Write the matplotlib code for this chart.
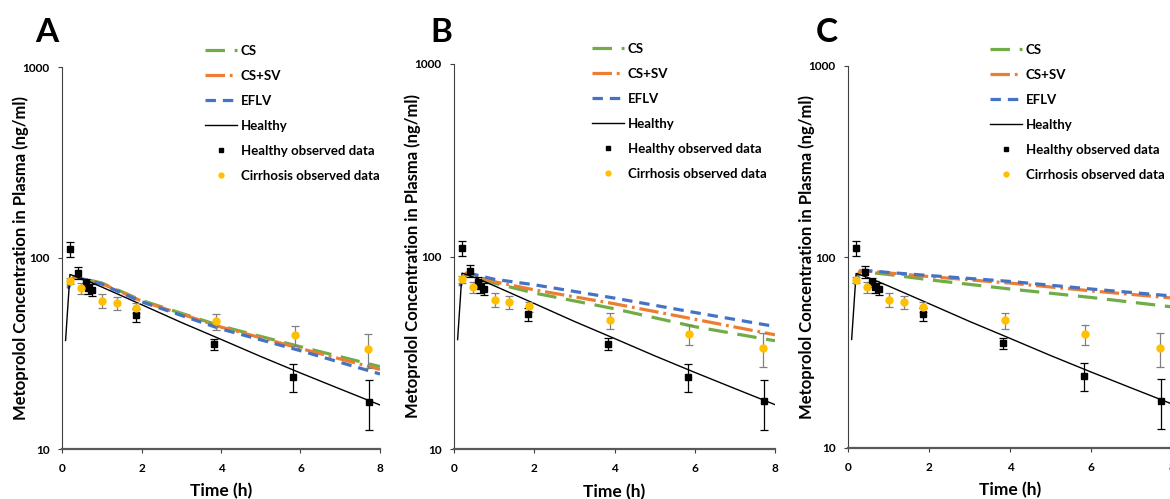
import matplotlib
matplotlib.use("Agg")
import matplotlib.pyplot as plt

plt.rcParams['font.family'] = ['Lato', 'DejaVu Sans']
plt.rcParams['lines.scale_dashes'] = False

# ---------------- data ----------------
panel_labels = ["A", "B", "C"]

healthy_sim_t = [0.09, 0.2, 0.5, 1, 2, 3, 4, 5, 6, 7, 8]
healthy_sim_c = [37, 82, 78, 70.5, 57, 46, 37.5, 30.5, 25, 20.6, 17]

model_t = [0.15, 0.3, 1, 2, 4, 6, 8]
cs_c = [
    [70, 80, 74, 60, 44, 34.3, 27],
    [70, 81, 72.8, 64.6, 53.5, 43.2, 36.5],
    [72, 84, 81, 76, 68, 61.4, 54.8],
]
cssv_c = [
    [70, 80, 73.5, 59.5, 43.5, 33.6, 26.1],
    [70, 82, 74, 67.1, 56.8, 47.2, 39.2],
    [72, 85, 82.5, 79, 73, 66.5, 61],
]
eflv_c = [
    [69, 80, 73, 59, 42.5, 32.7, 24.7],
    [70, 82.6, 76.2, 71.3, 60.8, 51.2, 43.3],
    [72, 85.5, 83, 80, 74.5, 68, 62.5],
]

healthy_obs_t = [0.2, 0.41, 0.6, 0.66, 0.76, 1.85, 3.83, 5.82, 7.72]
healthy_obs_c = [111, 83.8, 73.8, 70, 67.9, 50.1, 35.3, 23.8, 17.7]
healthy_obs_err = [10, 6, 4, 5, 5, 4, 2.5, 4, 5.2]

cirr_obs_t = [0.2, 0.48, 1.01, 1.38, 1.86, 3.88, 5.85, 7.71]
cirr_obs_c = [76, 69.3, 59.6, 57.9, 55, 46.6, 39.4, 33.4]
cirr_obs_err = [3, 4.8, 5, 4.6, 3.3, 4.5, 4.8, 6.7]

x_ticks = [0, 2, 4, 6, 8]
y_ticks = [10, 100, 1000]

# ---------------- style ----------------
GREEN = '#70AD47'
ORANGE = '#ED7D31'
BLUE = '#4472C4'
YELLOW = '#FFC000'

fig = plt.figure(figsize=(11.7, 4.99), dpi=100)

W, H = 1170.0, 499.0
axes_px = [  # left, bottom(px from top), width, height
    (62, 449, 318, 382),
    (454, 449, 321, 385),
    (848, 448, 324, 382),
]
letter_px = [(47, 33), (441, 33), (827, 33)]
legend_px = [(205, 45), (592, 43), (990, 44)]

for i, (l, b, w, h) in enumerate(axes_px):
    ax = fig.add_axes([l / W, (H - b) / H, w / W, h / H])
    ax.set_yscale('log')
    ax.set_xlim(0, 8)
    ax.set_ylim(10, 1000)

    ax.plot(model_t, cs_c[i], color=GREEN, lw=2.3, dashes=(14, 7), label='CS', zorder=3)
    ax.plot(model_t, cssv_c[i], color=ORANGE, lw=2.3, dashes=(14, 3.5, 2, 3.5), label='CS+SV', zorder=3)
    ax.plot(model_t, eflv_c[i], color=BLUE, lw=2.3, dashes=(7.5, 5), label='EFLV', zorder=3)
    ax.plot(healthy_sim_t, healthy_sim_c, color='black', lw=1.0, label='Healthy', zorder=4)

    ax.errorbar(cirr_obs_t, cirr_obs_c, yerr=cirr_obs_err, fmt='none',
                ecolor='#808080', elinewidth=0.9, capsize=3, capthick=0.9, zorder=5)
    ax.errorbar(healthy_obs_t, healthy_obs_c, yerr=healthy_obs_err, fmt='none',
                ecolor='black', elinewidth=0.9, capsize=3, capthick=0.9, zorder=5)
    ax.plot(healthy_obs_t, healthy_obs_c, 's', color='black', ms=5, ls='none',
            label='Healthy observed data', zorder=6)
    ax.plot(cirr_obs_t, cirr_obs_c, 'o', color=YELLOW, ms=5, ls='none',
            label='Cirrhosis observed data', zorder=6)

    ax.set_xticks(x_ticks)
    ax.set_xticklabels([str(t) for t in x_ticks])
    ax.set_yticks(y_ticks)
    ax.set_yticklabels([str(t) for t in y_ticks])
    ax.minorticks_off()
    for s in ('top', 'right'):
        ax.spines[s].set_visible(False)
    ax.spines['left'].set_color('#404040')
    ax.spines['left'].set_linewidth(0.8)
    ax.spines['bottom'].set_color('#595959')
    ax.spines['bottom'].set_linewidth(1.6)
    ax.tick_params(axis='both', labelsize=8.5, length=3, width=0.8, color='#404040')
    ax.tick_params(axis='x', pad=7)
    ax.tick_params(axis='y', pad=6)
    for lab in ax.get_xticklabels() + ax.get_yticklabels():
        lab.set_fontweight('bold')

    ax.set_xlabel('Time (h)', fontsize=12.5, fontweight='bold')
    ax.xaxis.set_label_coords(0.5, -0.09)
    ax.set_ylabel('Metoprolol Concentration in Plasma (ng/ml)', fontsize=12, fontweight='bold')
    ax.yaxis.set_label_coords(-0.103, 0.5)

    lx, ly = legend_px[i]
    leg = ax.legend(loc='upper left', bbox_to_anchor=(lx / W, 1 - ly / H),
                    bbox_transform=fig.transFigure, frameon=False, fontsize=9.5,
                    handlelength=2.4, handletextpad=0.3, labelspacing=0.98,
                    borderpad=0, borderaxespad=0, markerscale=0.7)
    for t in leg.get_texts():
        t.set_fontweight('bold')

    fx, fy = letter_px[i]
    fig.text(fx / W, 1 - fy / H, panel_labels[i], fontsize=24, fontweight='bold',
             ha='center', va='center')

fig.savefig('out.png', dpi=100)
